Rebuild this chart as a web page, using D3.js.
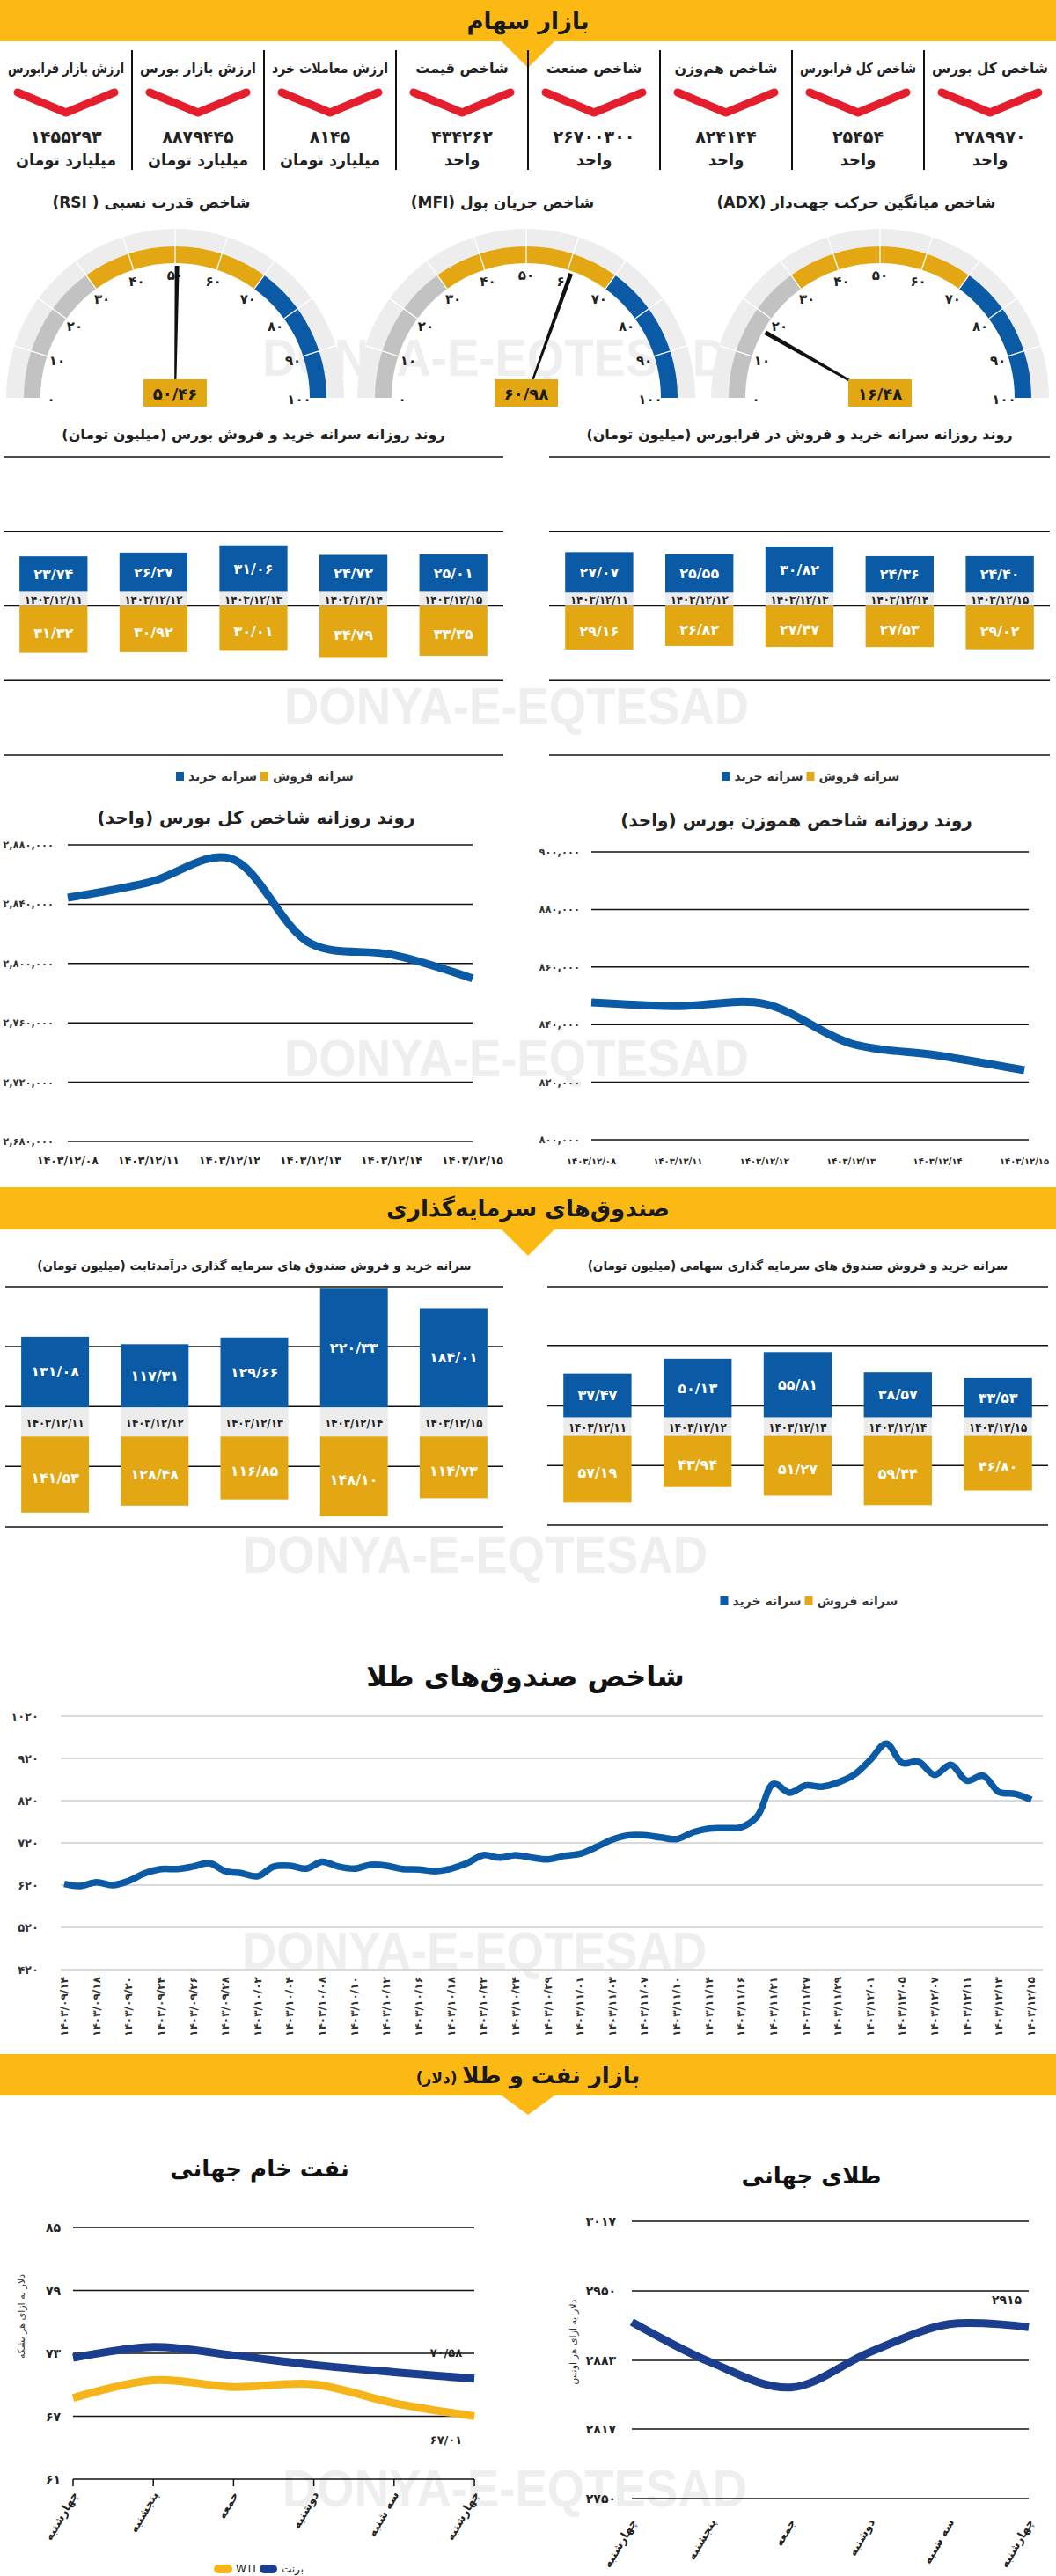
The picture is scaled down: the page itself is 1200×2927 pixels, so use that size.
<!DOCTYPE html>
<html><head><meta charset="utf-8">
<script src="https://cdn.jsdelivr.net/npm/d3@7"></script>
<style>
body{margin:0;background:#fff;}
svg{display:block;font-family:"DejaVu Sans",sans-serif;}
</style></head><body>
<svg id="c" width="1200" height="2927"></svg>
<script>
// ================= DATA =================
const statLabels = ["شاخص کل بورس","شاخص کل فرابورس","شاخص هم‌وزن","شاخص صنعت","شاخص قیمت","ارزش معاملات خرد","ارزش بازار بورس","ارزش بازار فرابورس"];
const statValues = [2789970, 25454, 824144, 26700300, 434262, 8145, 8879445, 1455293];
const statUnits  = ["واحد","واحد","واحد","واحد","واحد","میلیارد تومان","میلیارد تومان","میلیارد تومان"];

const gaugeTitles = ["شاخص میانگین حرکت جهت‌دار (ADX)","شاخص جریان پول (MFI)","شاخص قدرت نسبی ( RSI)"];
const gaugeValues = [16.48, 60.98, 50.46];
const gaugeTicks  = [0,10,20,30,40,50,60,70,80,90,100];
const gaugeZoneLimits = [0, 30, 70, 100];

const barDates = ["۱۴۰۳/۱۲/۱۱","۱۴۰۳/۱۲/۱۲","۱۴۰۳/۱۲/۱۳","۱۴۰۳/۱۲/۱۴","۱۴۰۳/۱۲/۱۵"];
const bourseBuy  = [23.74, 26.27, 31.06, 24.72, 25.01];
const bourseSell = [31.32, 30.92, 30.01, 34.79, 33.35];
const faraBuy    = [27.07, 25.55, 30.82, 24.36, 24.40];
const faraSell   = [29.16, 26.82, 27.47, 27.53, 29.02];
const fixedBuy   = [131.08, 117.31, 129.66, 220.33, 184.01];
const fixedSell  = [141.53, 128.48, 116.85, 148.10, 114.73];
const equityBuy  = [37.47, 50.13, 55.81, 38.57, 33.53];
const equitySell = [57.19, 43.94, 51.27, 59.44, 46.80];

const lineDates  = ["۱۴۰۳/۱۲/۰۸","۱۴۰۳/۱۲/۱۱","۱۴۰۳/۱۲/۱۲","۱۴۰۳/۱۲/۱۳","۱۴۰۳/۱۲/۱۴","۱۴۰۳/۱۲/۱۵"];
const totalIndex = [2844400, 2854700, 2871000, 2813500, 2806000, 2789970];
const totalTicks = [2680000, 2720000, 2760000, 2800000, 2840000, 2880000];
const equalIndex = [847700, 846400, 847200, 833400, 829300, 824144];
const equalTicks = [800000, 820000, 840000, 860000, 880000, 900000];

const goldFundDates = ["۱۴۰۳/۰۹/۱۴","۱۴۰۳/۰۹/۱۸","۱۴۰۳/۰۹/۲۰","۱۴۰۳/۰۹/۲۴","۱۴۰۳/۰۹/۲۶","۱۴۰۳/۰۹/۲۸","۱۴۰۳/۱۰/۰۲","۱۴۰۳/۱۰/۰۴","۱۴۰۳/۱۰/۰۸","۱۴۰۳/۱۰/۱۰","۱۴۰۳/۱۰/۱۲","۱۴۰۳/۱۰/۱۶","۱۴۰۳/۱۰/۱۸","۱۴۰۳/۱۰/۲۲","۱۴۰۳/۱۰/۲۴","۱۴۰۳/۱۰/۲۹","۱۴۰۳/۱۱/۰۱","۱۴۰۳/۱۱/۰۳","۱۴۰۳/۱۱/۰۷","۱۴۰۳/۱۱/۱۰","۱۴۰۳/۱۱/۱۴","۱۴۰۳/۱۱/۱۶","۱۴۰۳/۱۱/۲۱","۱۴۰۳/۱۱/۲۷","۱۴۰۳/۱۱/۲۹","۱۴۰۳/۱۲/۰۱","۱۴۰۳/۱۲/۰۵","۱۴۰۳/۱۲/۰۷","۱۴۰۳/۱۲/۱۱","۱۴۰۳/۱۲/۱۳","۱۴۰۳/۱۲/۱۵"];
const goldFundValues = [623,618,627,620,630,648,658,658,664,672,
  653,648,641,664,666,659,675,664,659,668,
  666,658,657,653,659,672,691,685,691,685,
  681,689,694,710,728,738,738,733,729,745,
  754,755,757,783,860,839,856,853,863,881,
  916,955,909,912,881,905,867,879,840,836,
  822];
const goldFundTicks = [420,520,620,720,820,920,1020];

const weekDays = ["چهارشنبه","پنجشنبه","جمعه","دوشنبه","سه شنبه","چهارشنبه"];
const brent = [72.58, 73.6, 72.8, 71.9, 71.2, 70.58];
const wti   = [68.74, 70.45, 69.8, 70.05, 68.25, 67.01];
const oilTicks = [61, 67, 73, 79, 85];
const goldWorld = [2920, 2881, 2857, 2891, 2918, 2915];
const goldWorldTicks = [2750, 2817, 2883, 2950, 3017];

// ================= STYLE =================
const YEL = "#FDB913", BLUE = "#0B5AA6", GOLD = "#E4A714", NAVY = "#1C3E8E", WTIC = "#F5B51A", RED = "#E41E2C", DARK = "#222";
const svg = d3.select("#c");
const fa = s => String(s).replace(/[0-9]/g, d => "۰۱۲۳۴۵۶۷۸۹"[+d]);
const faDec = v => fa(v.toFixed(2).replace(".", "/"));
const faComma = v => fa(d3.format(",")(v));

function T(x, y, s, size, o = {}) {
  const t = (o.g || svg).append("text").attr("x", x).attr("y", y)
    .attr("font-size", size).attr("font-weight", o.w || "bold")
    .attr("fill", o.fill || DARK).attr("text-anchor", o.a || "middle").text(s);
  if (o.rtl) t.attr("direction", "rtl");
  if (o.db) t.attr("dominant-baseline", o.db);
  if (o.fit) { const w = t.node().getComputedTextLength(); if (w > o.fit) t.attr("font-size", size * o.fit / w); }
  if (o.len) t.attr("textLength", o.len).attr("lengthAdjust", "spacingAndGlyphs");
  if (o.max && t.node().getComputedTextLength() > o.max) t.attr("textLength", o.max).attr("lengthAdjust", "spacingAndGlyphs");
  if (o.rot != null) t.attr("transform", `rotate(${o.rot},${x},${y})`);
  return t;
}

// ---------- watermarks ----------
[[298,427],[323,823],[323,1223],[276,1787],[275,2237],[321,2848]].forEach(([x,y]) =>
  svg.append("text").attr("x",x).attr("y",y).attr("font-family","'Liberation Sans',Arial,sans-serif")
    .attr("font-weight","bold").attr("font-size",60).attr("fill","#eeeeee")
    .attr("textLength",528).attr("lengthAdjust","spacingAndGlyphs").text("DONYA-E-EQTESAD"));

// ---------- banners ----------
function banner(y0, h, th, title, sub) {
  svg.append("rect").attr("x",0).attr("y",y0).attr("width",1200).attr("height",h).attr("fill",YEL);
  svg.append("path").attr("d",`M570,${y0+h}L630,${y0+h}L600,${y0+h+th}Z`).attr("fill",YEL);
  const t = T(600, y0 + h/2 + 9, title, 26, {rtl:true, fill:"#1a1a1a"});
  if (sub) t.append("tspan").attr("font-size",17).text(" " + sub);
}
banner(0, 47, 30, "بازار سهام");
banner(1349, 48, 30, "صندوق‌های سرمایه‌گذاری");
banner(2334, 47, 22, "بازار نفت و طلا", "(دلار)");

// ---------- stats row ----------
for (let k = 1; k < statLabels.length; k++)
  svg.append("line").attr("x1",k*150).attr("x2",k*150).attr("y1",57).attr("y2",193).attr("stroke","#111").attr("stroke-width",2);
statLabels.forEach((l, i) => {
  const cx = 1200 - 150 * (i + 0.5);
  T(cx, 83, l, 16, {rtl:true, max:132});
  svg.append("path").attr("d",`M${cx-55},105L${cx},128L${cx+55},105`).attr("fill","none")
    .attr("stroke",RED).attr("stroke-width",9).attr("stroke-linecap","round").attr("stroke-linejoin","round");
  T(cx, 162, fa(statValues[i]), 19, {max:100});
  T(cx, 188, statUnits[i], 18, {rtl:true, max:114});
});

// ---------- gauges ----------
const gaugeCX = [1000, 598, 199], gaugeCY = 452;
const zoneColors = ["#C2C2C2", GOLD, BLUE];
gaugeValues.forEach((v, gi) => {
  const cx = gaugeCX[gi];
  const g = svg.append("g").attr("transform", `translate(${cx},${gaugeCY})`);
  const ang = d3.scaleLinear().domain([0,100]).range([-Math.PI/2, Math.PI/2]);
  g.append("path").attr("d", d3.arc()({innerRadius:172, outerRadius:192, startAngle:-Math.PI/2, endAngle:Math.PI/2})).attr("fill","#ededed");
  for (let z = 0; z < 3; z++)
    g.append("path").attr("d", d3.arc()({innerRadius:153, outerRadius:172, startAngle:ang(gaugeZoneLimits[z]), endAngle:ang(gaugeZoneLimits[z+1])})).attr("fill", zoneColors[z]);
  gaugeTicks.forEach(t => {
    const a = ang(t);
    if (t > 0 && t < 100)
      g.append("line").attr("x1",153*Math.sin(a)).attr("y1",-153*Math.cos(a)).attr("x2",192*Math.sin(a)).attr("y2",-192*Math.cos(a)).attr("stroke","#fff").attr("stroke-width",1.3);
    T(141*Math.sin(a), -141*Math.cos(a) + 2, fa(t), 15, {g, db:"central"});
  });
  const a = ang(v), s = Math.sin(a), c = Math.cos(a), px = c, py = s;
  const tip = 150, base = 6;
  g.append("path").attr("d", `M${base*s - 1*px},${-base*c - 1*py}L${tip*s - 2.5*px},${-tip*c - 2.5*py}L${tip*s + 2.5*px},${-tip*c + 2.5*py}L${base*s + 1*px},${-base*c + 1*py}Z`).attr("fill","#111");
  g.append("rect").attr("x",-36).attr("y",-21).attr("width",72).attr("height",31).attr("fill",GOLD);
  T(0, -5, faDec(v), 18, {g, db:"central", fill:"#1a1a1a"});
  T(cx - 27, 236, gaugeTitles[gi], 17, {rtl:true});
});

// ---------- stacked buy/sell charts ----------
function stackChart(o) {
  const x = d3.scaleBand().domain(barDates).range([o.x0, o.x1]).paddingInner(0.32).paddingOuter(0.16);
  const y = d3.scaleLinear().domain(o.dom).range([o.yb, o.yt]);
  const cx = (o.x0 + o.x1) / 2;
  T(cx, o.ty, o.title, o.tsize, {rtl:true});
  o.grid.forEach(v => svg.append("line").attr("x1",o.x0).attr("x2",o.x1).attr("y1",y(v)).attr("y2",y(v)).attr("stroke","#111").attr("stroke-width",1.5));
  barDates.forEach((d, i) => {
    const bx = x(d), bw = x.bandwidth(), m = bx + bw/2;
    svg.append("rect").attr("x",bx).attr("y",y(0)).attr("width",bw).attr("height",y(-o.sell[i]) - y(0)).attr("fill",GOLD);
    svg.append("rect").attr("x",bx).attr("y",y(o.spacer)).attr("width",bw).attr("height",y(0) - y(o.spacer)).attr("fill","#ececec");
    svg.append("rect").attr("x",bx).attr("y",y(o.spacer + o.buy[i])).attr("width",bw).attr("height",y(o.spacer) - y(o.spacer + o.buy[i])).attr("fill",BLUE);
    T(m, (y(0) + y(o.spacer))/2 + 1, d, o.dsize, {db:"central", len:66, fill:"#222"});
    T(m, (y(o.spacer) + y(o.spacer + o.buy[i]))/2, faDec(o.buy[i]), 16, {db:"central", fill:"#fff"});
    T(m, (y(0) + y(-o.sell[i]))/2 + 4, faDec(o.sell[i]), 16, {db:"central", fill:"#fff"});
  });
  if (o.legY) {
    const lx = cx - 88;
    svg.append("rect").attr("x",lx).attr("y",o.legY-5).attr("width",9).attr("height",10).attr("fill",BLUE);
    T(lx + 14, o.legY, "سرانه خرید", 14, {a:"start", db:"central", fill:"#333"});
    svg.append("rect").attr("x",lx + 96).attr("y",o.legY-5).attr("width",9).attr("height",10).attr("fill",GOLD);
    T(lx + 110, o.legY, "سرانه فروش", 14, {a:"start", db:"central", fill:"#333"});
  }
}
const g5 = [-100,-50,0,50,100];
stackChart({x0:4, x1:572, yt:519, yb:858, dom:[-100,100], grid:g5, spacer:9.5, buy:bourseBuy, sell:bourseSell,
  title:"روند روزانه سرانه خرید و فروش بورس (میلیون تومان)", ty:499, tsize:16, dsize:13, legY:882});
stackChart({x0:624, x1:1193, yt:519, yb:858, dom:[-100,100], grid:g5, spacer:9, buy:faraBuy, sell:faraSell,
  title:"روند روزانه سرانه خرید و فروش در فرابورس (میلیون تومان)", ty:499, tsize:16, dsize:13, legY:882});
stackChart({x0:6, x1:572, yt:1462, yb:1735, dom:[-168,278], grid:[-168,-55.6,55.6,167,278], spacer:54, buy:fixedBuy, sell:fixedSell,
  title:"سرانه خرید و فروش صندوق های سرمایه گذاری درآمدثابت (میلیون تومان)", ty:1443, tsize:13.5, dsize:14});
stackChart({x0:622, x1:1191, yt:1462, yb:1733, dom:[-76.5,127.4], grid:[-76.5,-25.5,25.5,77.2,127.4], spacer:15.7, buy:equityBuy, sell:equitySell,
  title:"سرانه خرید و فروش صندوق های سرمایه گذاری سهامی (میلیون تومان)", ty:1443, tsize:13.5, dsize:14, legY:1819});

// ---------- index line charts ----------
function indexLine(o) {
  const x = d3.scalePoint().domain(d3.range(o.values.length)).range([o.x0, o.x1]);
  const y = d3.scaleLinear().domain(d3.extent(o.ticks)).range([o.yb, o.yt]);
  T((o.x0 + o.x1)/2 + (o.tdx || 0), o.ty, o.title, 20, {rtl:true});
  o.ticks.forEach(t => {
    svg.append("line").attr("x1",o.x0).attr("x2",o.gx1 || o.x1).attr("y1",y(t)).attr("y2",y(t)).attr("stroke","#111").attr("stroke-width",1.5);
    T(o.lx, y(t), faComma(t), 11.5, {a:"end", db:"central", fill:"#333"});
  });
  o.dates.forEach((d, i) => T(x(i), o.dy, d, o.dsize, {fit:o.dfit, fill:"#222"}));
  svg.append("path").datum(o.values).attr("fill","none").attr("stroke",BLUE).attr("stroke-width",9).attr("stroke-linejoin","round")
    .attr("d", d3.line().x((d,i) => x(i)).y(d => y(d)).curve(d3.curveCatmullRom.alpha(0.5)));
}
indexLine({x0:77, x1:537, yt:960, yb:1297, ticks:totalTicks, values:totalIndex, dates:lineDates, lx:61, dy:1323, dsize:13, dfit:70,
  title:"روند روزانه شاخص کل بورس (واحد)", ty:936, tdx:-16});
indexLine({x0:672, x1:1164, gx1:1169, yt:968, yb:1295, ticks:equalTicks, values:equalIndex, dates:lineDates, lx:659, dy:1323, dsize:12, dfit:56,
  title:"روند روزانه شاخص هموزن بورس (واحد)", ty:939, tdx:-13});

// ---------- gold fund index ----------
(function(){
  const x = d3.scalePoint().domain(d3.range(goldFundValues.length)).range([73, 1172]);
  const y = d3.scaleLinear().domain(d3.extent(goldFundTicks)).range([2238, 1950]);
  T(597, 1916, "شاخص صندوق‌های طلا", 32, {rtl:true, fill:"#111"});
  goldFundTicks.forEach(t => {
    svg.append("line").attr("x1",69).attr("x2",1185).attr("y1",y(t)).attr("y2",y(t)).attr("stroke","#d9d9d9").attr("stroke-width",2);
    T(44, y(t), fa(t), 13, {a:"end", db:"central", fill:"#333"});
  });
  goldFundDates.forEach((d, k) => T(x(2*k), 2246, d, 12, {a:"end", db:"central", rot:-90, len:68, fill:"#333"}));
  svg.append("path").datum(goldFundValues).attr("fill","none").attr("stroke",BLUE).attr("stroke-width",7.5).attr("stroke-linejoin","round")
    .attr("d", d3.line().x((d,i) => x(i)).y(d => y(d)).curve(d3.curveCatmullRom.alpha(0.5)));
})();

// ---------- world oil ----------
(function(){
  const x = d3.scalePoint().domain(d3.range(weekDays.length)).range([83, 539]);
  const y = d3.scaleLinear().domain(d3.extent(oilTicks)).range([2817, 2531]);
  T(295, 2473, "نفت خام جهانی", 26, {rtl:true, fill:"#111"});
  oilTicks.forEach(t => {
    svg.append("line").attr("x1",83).attr("x2",539).attr("y1",y(t)).attr("y2",y(t)).attr("stroke","#111").attr("stroke-width",1.5);
    T(69, y(t), fa(t), 14, {a:"end", db:"central", fill:"#222"});
  });
  weekDays.forEach((d, i) => {
    svg.append("line").attr("x1",x(i)).attr("x2",x(i)).attr("y1",2817).attr("y2",2825).attr("stroke","#111").attr("stroke-width",1.5);
    T(x(i) + 2, 2832, d, 13, {a:"end", db:"central", rot:-60});
  });
  T(24, 2632, "دلار به ازای هر بشکه", 11, {rot:-90, db:"central", w:"normal", fill:"#333"});
  const ln = d3.line().x((d,i) => x(i)).y(d => y(d)).curve(d3.curveCatmullRom.alpha(0.5));
  svg.append("path").datum(wti).attr("fill","none").attr("stroke",WTIC).attr("stroke-width",9).attr("d", ln);
  svg.append("path").datum(brent).attr("fill","none").attr("stroke",NAVY).attr("stroke-width",9).attr("d", ln);
  T(507, 2678, faDec(brent[5]), 13, {fill:"#222"});
  T(507, 2777, faDec(wti[5]), 13, {fill:"#222"});
  svg.append("rect").attr("x",243).attr("y",2914).attr("width",21).attr("height",10).attr("rx",5).attr("fill",WTIC);
  T(268, 2923, "WTI", 12, {a:"start", w:"normal", fill:"#222"});
  svg.append("rect").attr("x",295).attr("y",2914).attr("width",20).attr("height",10).attr("rx",5).attr("fill",NAVY);
  T(320, 2923, "برنت", 12, {a:"start", w:"normal", fill:"#222"});
})();

// ---------- world gold ----------
(function(){
  const x = d3.scalePoint().domain(d3.range(weekDays.length)).range([718, 1169]);
  const y = d3.scaleLinear().domain(d3.extent(goldWorldTicks)).range([2839, 2524]);
  T(922, 2481, "طلای جهانی", 26, {rtl:true, fill:"#111"});
  goldWorldTicks.forEach(t => {
    svg.append("line").attr("x1",718).attr("x2",1169).attr("y1",y(t)).attr("y2",y(t)).attr("stroke","#111").attr("stroke-width",1.5);
    T(700, y(t), fa(t), 14, {a:"end", db:"central", fill:"#222"});
  });
  weekDays.forEach((d, i) => T(x(i) + 2, 2863, d, 13, {a:"end", db:"central", rot:-60}));
  T(651, 2661, "دلار به ازای هر اونس", 11, {rot:-90, db:"central", w:"normal", fill:"#333"});
  svg.append("path").datum(goldWorld).attr("fill","none").attr("stroke",NAVY).attr("stroke-width",9)
    .attr("d", d3.line().x((d,i) => x(i)).y(d => y(d)).curve(d3.curveCatmullRom.alpha(0.5)));
  T(1144, 2618, fa(goldWorld[5]), 14, {fill:"#222"});
})();
</script>
</body></html>
